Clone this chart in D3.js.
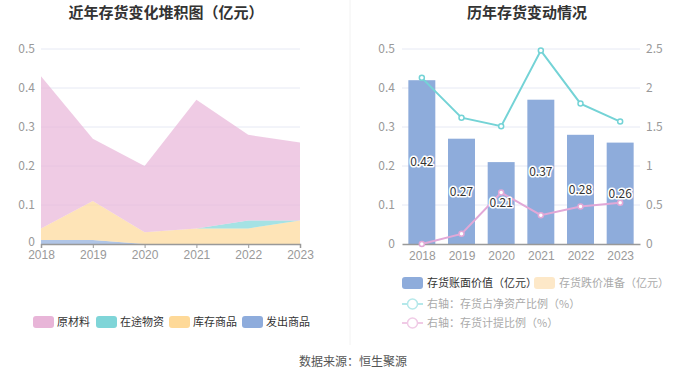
<!DOCTYPE html>
<html>
<head>
<meta charset="utf-8">
<script src="https://cdn.jsdelivr.net/npm/d3@7"></script>
<style>
  body { margin: 0; background: #fff; }
  svg { display: block; font-family: "Noto Sans CJK SC", "Noto Sans", sans-serif; }
</style>
</head>
<body>
<svg id="chart" width="700" height="378"></svg>
<script>
// data
const years = ['2018', '2019', '2020', '2021', '2022', '2023'];
const rawMaterial = [0.39, 0.16, 0.17, 0.33, 0.22, 0.20];   // 原材料
const inTransit = [0, 0, 0, 0, 0.02, 0];                    // 在途物资
const stockGoods = [0.03, 0.10, 0.03, 0.04, 0.04, 0.06];    // 库存商品
const shippedGoods = [0.01, 0.01, 0, 0, 0, 0];              // 发出商品
const bookValue = [0.42, 0.27, 0.21, 0.37, 0.28, 0.26];     // 存货账面价值
const netAssetRatio = [2.13, 1.62, 1.51, 2.48, 1.80, 1.57]; // 存货占净资产比例
const provisionRatio = [0, 0.13, 0.66, 0.37, 0.48, 0.53];   // 存货计提比例
const leftTicks = [0, 0.1, 0.2, 0.3, 0.4, 0.5];
const rightTicks = [0, 0.5, 1, 1.5, 2, 2.5];

const svg = d3.select('#chart');
const axisColor = '#999';
const gridColor = '#e6e9f4';
const fmt = d => d === 0 ? '0' : String(d);

// divider
svg.append('line')
    .attr('x1', 350).attr('x2', 350).attr('y1', 0).attr('y2', 345)
    .attr('stroke', '#f2f2f2');

// titles
svg.append('text').attr('x', 166).attr('y', 18).attr('text-anchor', 'middle')
    .attr('font-size', 15).attr('font-weight', 'bold').attr('fill', '#333')
    .text('近年存货变化堆积图（亿元）');
svg.append('text').attr('x', 527).attr('y', 18).attr('text-anchor', 'middle')
    .attr('font-size', 15).attr('font-weight', 'bold').attr('fill', '#333')
    .text('历年存货变动情况');

const y = d3.scaleLinear().domain([0, 0.5]).range([244, 49]);

// ---------- left: stacked area ----------
const xL = d3.scalePoint().domain(years).range([41, 300]);

svg.append('g').selectAll('line').data(leftTicks.slice(1)).enter().append('line')
    .attr('x1', 41).attr('x2', 300)
    .attr('y1', d => y(d)).attr('y2', d => y(d))
    .attr('stroke', gridColor);

const stackKeys = ['shipped', 'stock', 'transit', 'raw'];
const stackColors = { raw: '#e8b5d8', transit: '#7fd5d8', stock: '#fed998', shipped: '#8eacdc' };
const rows = years.map((yr, i) => ({
    year: yr, raw: rawMaterial[i], transit: inTransit[i], stock: stockGoods[i], shipped: shippedGoods[i]
}));
const series = d3.stack().keys(stackKeys)(rows);
const area = d3.area()
    .x(d => xL(d.data.year))
    .y0(d => y(d[0]))
    .y1(d => y(d[1]));
svg.append('g').selectAll('path').data(series).enter().append('path')
    .attr('d', area)
    .attr('fill', d => stackColors[d.key])
    .attr('fill-opacity', 0.7);

const axL = svg.append('g').attr('transform', 'translate(0,244)')
    .call(d3.axisBottom(xL).tickSize(4).tickPadding(2));
axL.select('.domain').attr('stroke', axisColor).attr('stroke-width', 1.5);
axL.selectAll('line').attr('stroke', axisColor);
axL.selectAll('text').attr('fill', axisColor).attr('font-size', 12).attr('font-family', 'inherit');

svg.append('g').selectAll('text').data(leftTicks).enter().append('text')
    .attr('x', 35).attr('y', d => y(d) - (d === 0 ? 2 : 0)).attr('dy', '0.35em')
    .attr('text-anchor', 'end').attr('font-size', 12).attr('fill', axisColor)
    .text(fmt);

// left legend
const legL = [
    { name: '原材料', color: '#e8b5d8', x: 33 },
    { name: '在途物资', color: '#7fd5d8', x: 96 },
    { name: '库存商品', color: '#fed998', x: 169 },
    { name: '发出商品', color: '#8eacdc', x: 242 }
];
const lg = svg.append('g').selectAll('g').data(legL).enter().append('g')
    .attr('transform', d => `translate(${d.x},322)`);
lg.append('rect').attr('x', 0).attr('y', -6).attr('width', 21).attr('height', 12).attr('rx', 3)
    .attr('fill', d => d.color);
lg.append('text').attr('x', 24).attr('dy', '0.35em').attr('font-size', 11).attr('fill', '#333')
    .text(d => d.name);

// ---------- right: bars + lines ----------
const xR = d3.scaleBand().domain(years).range([402, 640]).paddingInner(0.32).paddingOuter(0.16);
const y2 = d3.scaleLinear().domain([0, 2.5]).range([244, 49]);

svg.append('g').selectAll('line').data(leftTicks.slice(1)).enter().append('line')
    .attr('x1', 402).attr('x2', 640)
    .attr('y1', d => y(d)).attr('y2', d => y(d))
    .attr('stroke', gridColor);

svg.append('g').selectAll('rect').data(bookValue).enter().append('rect')
    .attr('x', (d, i) => xR(years[i]))
    .attr('width', xR.bandwidth())
    .attr('y', d => y(d))
    .attr('height', d => 244 - y(d))
    .attr('fill', '#8eacdb');

const axR = svg.append('g').attr('transform', 'translate(0,244)')
    .call(d3.axisBottom(d3.scalePoint().domain(years).range([402, 640]).padding(0.5)).tickSize(0).tickPadding(7));
axR.select('.domain').attr('stroke', axisColor).attr('stroke-width', 1.5);
axR.selectAll('text').attr('fill', axisColor).attr('font-size', 12).attr('font-family', 'inherit');

svg.append('g').selectAll('text').data(leftTicks).enter().append('text')
    .attr('x', 395).attr('y', d => y(d)).attr('dy', '0.35em')
    .attr('text-anchor', 'end').attr('font-size', 12).attr('fill', axisColor)
    .text(fmt);
svg.append('g').selectAll('text').data(rightTicks).enter().append('text')
    .attr('x', 646).attr('y', d => y2(d)).attr('dy', '0.35em')
    .attr('text-anchor', 'start').attr('font-size', 12).attr('fill', axisColor)
    .text(fmt);

const cx = i => xR(years[i]) + xR.bandwidth() / 2;
const lineGen = d3.line().x((d, i) => cx(i)).y(d => y2(d));
const drawLine = (vals, color) => {
    svg.append('path').datum(vals).attr('d', lineGen)
        .attr('fill', 'none').attr('stroke', color).attr('stroke-width', 2);
    svg.append('g').selectAll('circle').data(vals).enter().append('circle')
        .attr('cx', (d, i) => cx(i)).attr('cy', d => y2(d)).attr('r', 2.5)
        .attr('fill', '#fff').attr('stroke', color).attr('stroke-width', 1.5);
};
drawLine(netAssetRatio, '#74d3d6');
drawLine(provisionRatio, '#e2a8d7');

// bar labels
svg.append('g').selectAll('text').data(bookValue).enter().append('text')
    .attr('x', (d, i) => cx(i)).attr('y', d => y(d / 2)).attr('dy', '0.35em')
    .attr('text-anchor', 'middle').attr('font-size', 12)
    .attr('fill', '#333').attr('stroke', '#fff').attr('stroke-width', 3)
    .attr('paint-order', 'stroke').attr('stroke-linejoin', 'round')
    .text(d => d.toFixed(2));

// right legend
const legR = svg.append('g');
legR.append('rect').attr('x', 402).attr('y', 277).attr('width', 21).attr('height', 12).attr('rx', 3).attr('fill', '#8eacdb');
legR.append('text').attr('x', 427).attr('y', 283).attr('dy', '0.35em').attr('font-size', 11).attr('fill', '#333')
    .text('存货账面价值（亿元）');
legR.append('rect').attr('x', 534).attr('y', 277).attr('width', 21).attr('height', 12).attr('rx', 3).attr('fill', '#fde8c8');
legR.append('text').attr('x', 559).attr('y', 283).attr('dy', '0.35em').attr('font-size', 11).attr('fill', '#aaa')
    .text('存货跌价准备（亿元）');

const lineLegend = [
    { name: '右轴：存货占净资产比例（%）', color: '#b5e8ea', yy: 304 },
    { name: '右轴：存货计提比例（%）', color: '#f0cbe6', yy: 323 }
];
const ll = legR.selectAll('g').data(lineLegend).enter().append('g');
ll.append('line').attr('x1', 402).attr('x2', 423).attr('y1', d => d.yy).attr('y2', d => d.yy)
    .attr('stroke', d => d.color).attr('stroke-width', 2);
ll.append('circle').attr('cx', 412.5).attr('cy', d => d.yy).attr('r', 5)
    .attr('fill', '#fff').attr('stroke', d => d.color).attr('stroke-width', 1.5);
ll.append('text').attr('x', 427).attr('y', d => d.yy).attr('dy', '0.35em').attr('font-size', 11).attr('fill', '#aaa')
    .text(d => d.name);

// source
svg.append('text').attr('x', 353).attr('y', 362).attr('dy', '0.35em').attr('text-anchor', 'middle')
    .attr('font-size', 12).attr('fill', '#555').text('数据来源：恒生聚源');
</script>
</body>
</html>
